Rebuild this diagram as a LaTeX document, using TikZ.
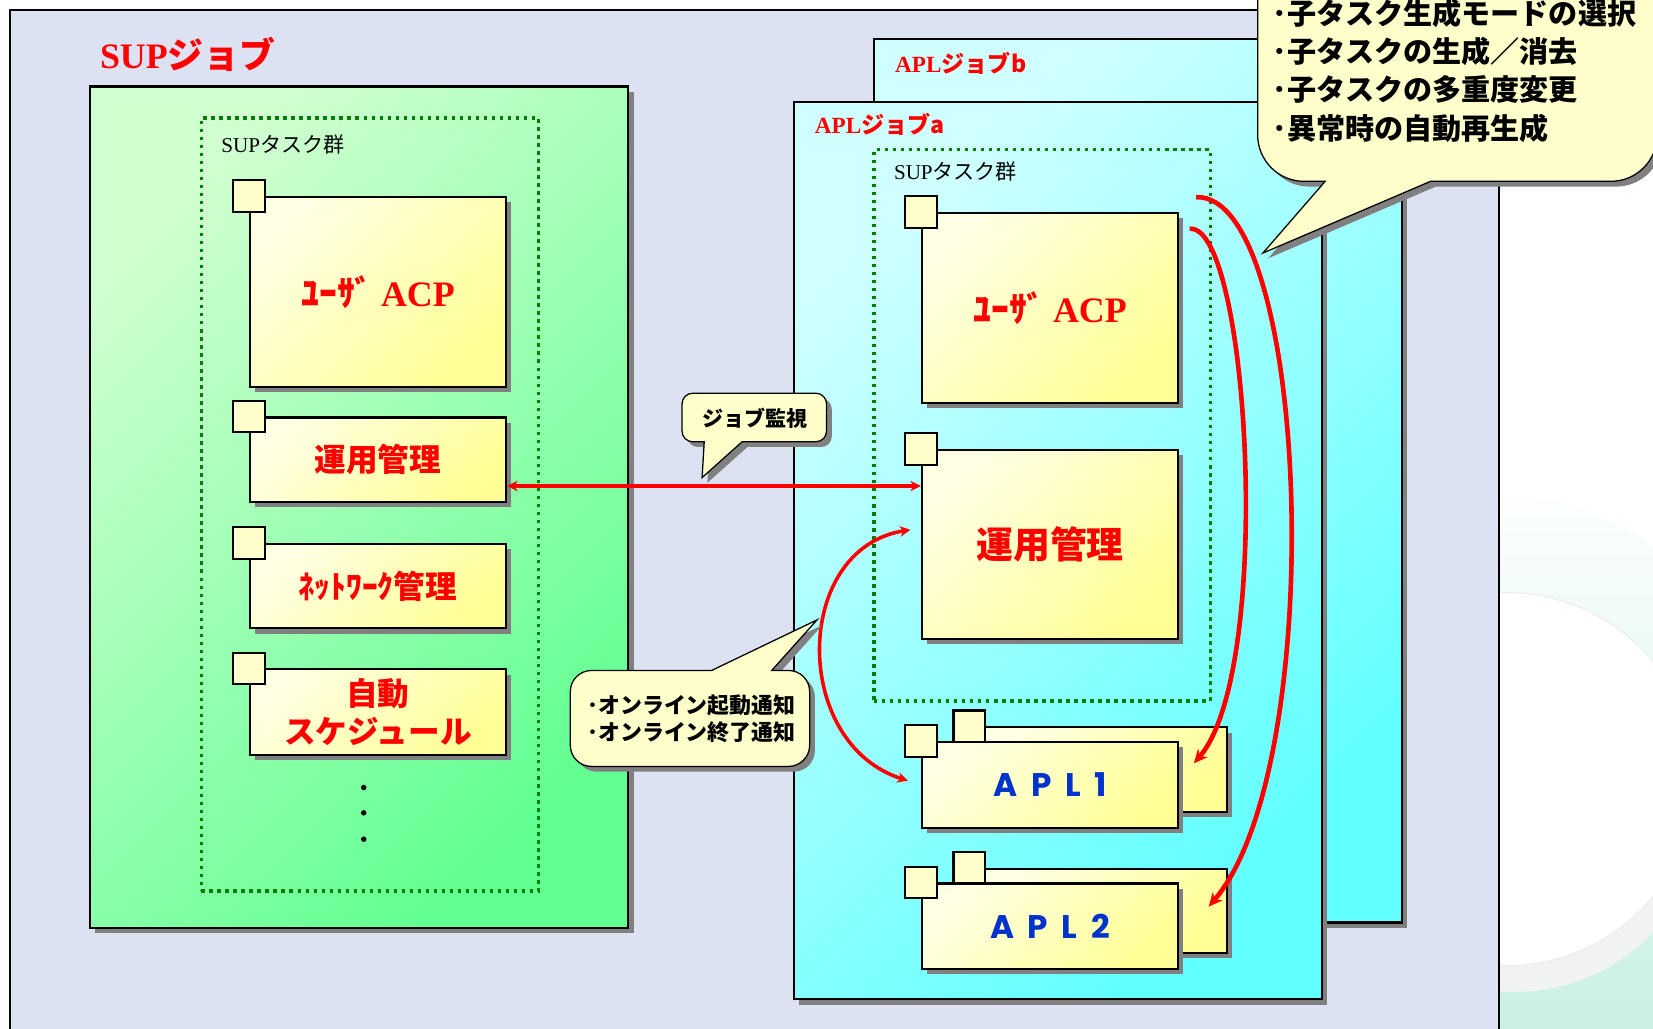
\documentclass[tikz,border=0pt]{standalone}
\usepackage{fontspec}
\setmainfont{Liberation Serif}
\newfontfamily\jpfont{Noto Sans CJK JP}
\newfontfamily\aplfont{Poppins}
\usetikzlibrary{shadows, arrows.meta}
\definecolor{lavender}{RGB}{221,226,243}
\definecolor{paleyellow}{RGB}{255,255,204}
\definecolor{boxtop}{RGB}{255,255,228}
\definecolor{boxbottom}{RGB}{255,255,150}
\definecolor{greentop}{RGB}{208,255,208}
\definecolor{greenbottom}{RGB}{98,255,146}
\definecolor{cyantop}{RGB}{208,255,255}
\definecolor{cyanbottom}{RGB}{98,255,255}
\definecolor{groupgreen}{RGB}{0,128,0}
\definecolor{aplblue}{RGB}{0,51,204}
\definecolor{ringtop}{RGB}{252,254,254}
\definecolor{ringbottom}{RGB}{192,238,222}
\definecolor{ringgray}{RGB}{241,242,242}

\begin{document}
\begin{tikzpicture}[x=0.5pt,y=0.5pt,
		shadowed/.style={drop shadow={shadow xshift=2.5pt,shadow yshift=-2.5pt,fill=black!50,opacity=1}},
		jobpanel/.style={draw=black,line width=1pt,shadowed,top color=#1top,bottom color=#1bottom,shading angle=45,inner sep=0pt},
		taskgroup/.style={draw=groupgreen,line width=1.6pt,dash pattern=on 1.6pt off 2.2pt,inner sep=0pt},
		taskbox/.style={draw=black,line width=1pt,shadowed,top color=boxtop,bottom color=boxbottom,shading angle=45,minimum width=121.5pt,text=red,font=\jpfont\bfseries\fontsize{15}{18}\selectfont},
		tabsquare/.style={draw=black,line width=1pt,fill=paleyellow,minimum size=15pt,inner sep=0pt},
		bubble/.style={draw=black,line width=0.6pt,fill=paleyellow,shadowed},
		redarrow/.style={draw=red,line width=1.7pt,>={Stealth[length=5pt,width=5pt]}},
		longarrow/.style={draw=red,line width=2.2pt,->,>={Stealth[length=6.5pt,width=6pt]}},
		aplname/.style={text=aplblue,font=\aplfont\bfseries\fontsize{15.5}{18}\selectfont},
		]
		\useasboundingbox (0,0) rectangle (1568,-976);
		\clip (0,0) rectangle (1568,-976);
		\fill[white] (0,0) rectangle (1568,-976);
		\shade[top color=ringtop,bottom color=ringbottom] (1430,-770) ellipse [x radius=125pt,y radius=150pt];
		\fill[ringgray] (1436,-764) ellipse [x radius=90pt,y radius=88.5pt];
		\filldraw[fill=white,draw=black!8] (1428,-739) ellipse [x radius=90pt,y radius=88.5pt];
		\draw[line width=1pt,fill=lavender] (9.5,-9.5) rectangle (1422,-1000);
		
		\node[jobpanel=green,minimum width=255.5pt,minimum height=399pt] (supjob) at (340.5,-481) {};
		\node[text=red,font=\bfseries\fontsize{17}{20}\selectfont] (supjobtitle) at (178,-52) {SUP{\jpfont ジョブ}};
		\node[taskgroup,minimum width=160pt,minimum height=366.5pt] (groupL) at (351,-478.5) {};
		\node[anchor=west,font=\fontsize{10}{12}\selectfont] (groupLlabel) at (203,-137) {SUP{\jpfont タスク群}};
		
		\node[taskbox,minimum height=90pt,font=\jpfont\bfseries\fontsize{17}{20}\selectfont] (acpL) at (358.5,-277) {ﾕｰｻﾞ {\rmfamily ACP}};
		\node[taskbox,minimum height=40pt] (unyoL) at (358.5,-436) {運用管理};
		\node[taskbox,minimum height=40pt] (netL) at (358.5,-556) {ﾈｯﾄﾜｰｸ管理};
		\node[taskbox,minimum height=40.5pt,align=center] (autoL) at (358.5,-675.5) {自動\\スケジュール};
		\node[tabsquare] (acpLtab) at (acpL.north west) {};
		\node[tabsquare] (unyoLtab) at (unyoL.north west) {};
		\node[tabsquare] (netLtab) at (netL.north west) {};
		\node[tabsquare] (autoLtab) at (autoL.north west) {};
		\fill (345,-747) circle (1.3pt) (345,-771) circle (1.3pt) (345,-796) circle (1.3pt);
		
		\node[jobpanel=cyan,minimum width=250.5pt,minimum height=419pt] (jobb) at (1079.5,-456) {};
		\node[anchor=west,text=red,font=\bfseries\fontsize{11}{13}\selectfont] (jobblabel) at (842,-60) {APL{\jpfont ジョブb}};
		\node[jobpanel=cyan,minimum width=250.5pt,minimum height=425.5pt] (joba) at (1003.5,-522.5) {};
		\node[anchor=west,text=red,font=\bfseries\fontsize{11}{13}\selectfont] (jobalabel) at (766,-118) {APL{\jpfont ジョブa}};
		\node[taskgroup,minimum width=159.5pt,minimum height=261.5pt] (groupR) at (988.5,-403.5) {};
		\node[anchor=west,font=\fontsize{10}{12}\selectfont] (groupRlabel) at (841,-163) {SUP{\jpfont タスク群}};
		
		\node[taskbox,minimum height=90pt,font=\jpfont\bfseries\fontsize{17}{20}\selectfont] (acpR) at (996,-292) {ﾕｰｻﾞ {\rmfamily ACP}};
		\node[taskbox,minimum height=89.5pt,font=\jpfont\bfseries\fontsize{17.5}{20}\selectfont] (unyoR) at (996,-516.5) {運用管理};
		\node[tabsquare] (acpRtab) at (acpR.north west) {};
		\node[tabsquare] (unyoRtab) at (unyoR.north west) {};
		\node[taskbox,minimum height=40pt] (apl1b) at (1042,-730) {};
		\node[tabsquare] (apl1btab) at (apl1b.north west) {};
		\node[taskbox,minimum height=40.5pt,aplname] (apl1) at (996,-744.5) {A\hspace{6.5pt}P\hspace{6.5pt}L\hspace{6.5pt}1};
		\node[tabsquare] (apl1tab) at (apl1.north west) {};
		\node[taskbox,minimum height=40pt] (apl2b) at (1042,-864) {};
		\node[tabsquare] (apl2btab) at (apl2b.north west) {};
		\node[taskbox,minimum height=40.5pt,aplname] (apl2) at (996,-878.5) {A\hspace{6.5pt}P\hspace{6.5pt}L\hspace{6.5pt}2};
		\node[tabsquare] (apl2tab) at (apl2.north west) {};
		
		\draw[redarrow,<->] (unyoL.east |- 0,-461) -- (unyoR.west |- 0,-461);
		\draw[redarrow,<->,shorten <=5pt,shorten >=6.5pt] (unyoR.west |- 0,-501) .. controls (752,-520) and (750,-705) .. (apl1.west);
		\draw[longarrow] ([shift={(16,14)}]acpR.north east) .. controls (1243,-183) and (1261,-727) .. ([shift={(-18,4)}]apl2b.east);
		\draw[longarrow] ([shift={(10,-16)}]acpR.north east) .. controls (1185,-212) and (1209,-636) .. ([shift={(-32,6)}]apl1b.east);
		
		\path[bubble] (704,-419) -- (666,-453) -- (668,-419) -- (657,-419) arc[start angle=270,end angle=180,radius=5pt] -- (647,-383) arc[start angle=180,end angle=90,radius=5pt] -- (774,-373) arc[start angle=90,end angle=0,radius=5pt] -- (784,-409) arc[start angle=0,end angle=-90,radius=5pt] -- cycle;
		\node[font=\jpfont\bfseries\fontsize{10}{12}\selectfont] (watch) at (716,-397) {ジョブ監視};
		\path[bubble] (675,-636) -- (775,-588) -- (732,-636) -- (748,-636) arc[start angle=90,end angle=0,radius=10pt] -- (768,-707) arc[start angle=0,end angle=-90,radius=10pt] -- (561,-727) arc[start angle=270,end angle=180,radius=10pt] -- (541,-656) arc[start angle=180,end angle=90,radius=10pt] -- cycle;
		\node[anchor=west,align=left,font=\jpfont\bfseries\fontsize{10.4}{13}\selectfont] (notify) at (550,-682) {･オンライン起動通知\\･オンライン終了通知};
		\path[bubble] (1357,-172) -- (1198,-240) -- (1257,-172) -- (1237,-172) arc[start angle=270,end angle=180,radius=22pt] -- (1193,40) -- (1572,40) -- (1572,-128) arc[start angle=0,end angle=-90,radius=22pt] -- cycle;
		\node[anchor=west,align=left,font=\jpfont\bfseries\fontsize{13.8}{18.2}\selectfont] (modes) at (1200,-67) {･子タスク生成モードの選択\\･子タスクの生成／消去\\･子タスクの多重度変更\\･異常時の自動再生成};
\end{tikzpicture}
\end{document}
